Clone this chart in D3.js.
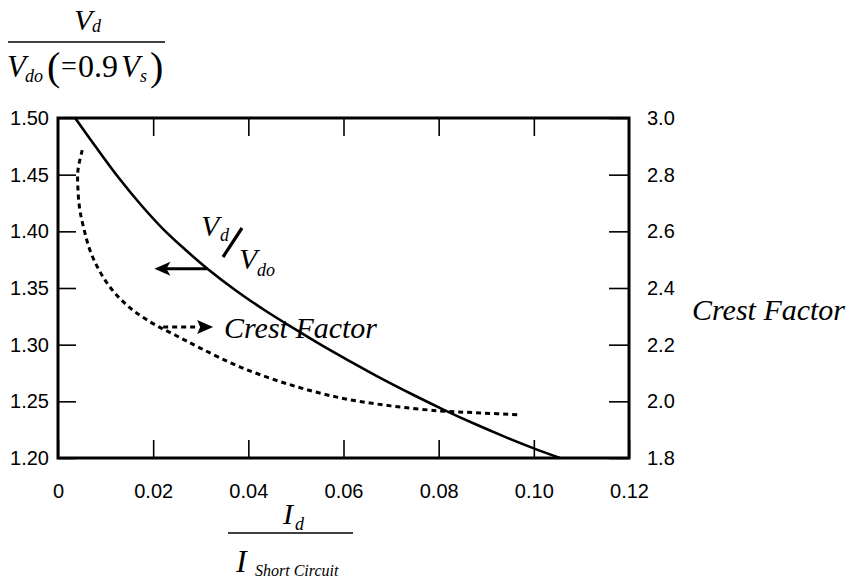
<!DOCTYPE html>
<html>
<head>
<meta charset="utf-8">
<script src="https://cdn.jsdelivr.net/npm/d3@7"></script>
<style>
  body { margin: 0; background: #fff; }
  .tick text { font-family: "Liberation Sans", Arial, sans-serif; font-size: 20px; fill: #000; }
  .tick line { stroke: #000; stroke-width: 1.6; }
  .it { font-family: "Liberation Serif", "Times New Roman", serif; font-style: italic; fill: #000; }
  .rm { font-family: "Liberation Serif", "Times New Roman", serif; fill: #000; }
</style>
</head>
<body>
<svg id="chart" width="860" height="581"></svg>
<script>
var width = 860
var height = 581
var margin = { top: 118, left: 58, right: 231, bottom: 123 }

// Vd / Vdo 曲线 (左轴)
var vdX = [0.0036, 0.0082, 0.0128, 0.0175, 0.0221, 0.0267, 0.0314, 0.0373, 0.0432, 0.0493, 0.0552, 0.0615, 0.0680, 0.0745, 0.0811, 0.0874, 0.0937, 0.1000, 0.1055]
var vdY = [1.500, 1.473, 1.447, 1.423, 1.402, 1.384, 1.367, 1.348, 1.331, 1.315, 1.300, 1.285, 1.270, 1.256, 1.2425, 1.2304, 1.2191, 1.2085, 1.200]

// Crest Factor 曲线 (右轴)
var cfX = [0.0051, 0.0042, 0.0042, 0.0046, 0.0055, 0.0067, 0.0086, 0.0114, 0.0152, 0.0198, 0.0246, 0.0299, 0.0383, 0.0489, 0.0594, 0.0699, 0.0804, 0.0888, 0.0973]
var cfY = [2.887, 2.816, 2.746, 2.675, 2.605, 2.534, 2.464, 2.393, 2.329, 2.276, 2.234, 2.188, 2.121, 2.058, 2.012, 1.984, 1.966, 1.959, 1.952]

var xTicks = [0, 0.02, 0.04, 0.06, 0.08, 0.10, 0.12]
var leftTicks = [1.20, 1.25, 1.30, 1.35, 1.40, 1.45, 1.50]
var rightTicks = [1.8, 2.0, 2.2, 2.4, 2.6, 2.8, 3.0]

// 箭头标注的起点 [x, y]
var vdArrow = [0.0314, 1.367]
var cfArrow = [0.0221, 2.262]

var svg = d3.select("#chart")
var w = width - margin.left - margin.right
var h = height - margin.top - margin.bottom

var xScale = d3.scaleLinear().domain([0, 0.12]).range([0, w])
var yLeft = d3.scaleLinear().domain([1.20, 1.50]).range([h, 0])
var yRight = d3.scaleLinear().domain([1.8, 3.0]).range([h, 0])

var g = svg.append("g").attr("transform", "translate(" + margin.left + "," + margin.top + ")")

// 坐标轴 (刻度朝内)
var xfmt = function (d) { return d === 0 ? "0" : d3.format(".2f")(d) }
g.append("g").attr("transform", "translate(0," + h + ")")
    .call(d3.axisBottom(xScale).tickValues(xTicks).tickFormat(xfmt).tickSizeInner(-18).tickSizeOuter(0).tickPadding(26))
g.append("g")
    .call(d3.axisTop(xScale).tickValues(xTicks.slice(1, -1)).tickFormat("").tickSizeInner(-18).tickSizeOuter(0))
g.append("g")
    .call(d3.axisLeft(yLeft).tickValues(leftTicks).tickFormat(d3.format(".2f")).tickSizeInner(-18).tickSizeOuter(0).tickPadding(9))
g.append("g").attr("transform", "translate(" + w + ",0)")
    .call(d3.axisRight(yRight).tickValues(rightTicks).tickFormat(d3.format(".1f")).tickSizeInner(-20).tickSizeOuter(0).tickPadding(18))
g.selectAll(".domain").remove()

g.append("rect")
    .attr("width", w).attr("height", h)
    .attr("fill", "none").attr("stroke", "#000").attr("stroke-width", 3)

// 数据曲线
var vdData = vdX.map(function (d, i) { return [d, vdY[i]] })
var cfData = cfX.map(function (d, i) { return [d, cfY[i]] })

g.append("path")
    .datum(vdData)
    .attr("fill", "none").attr("stroke", "#000").attr("stroke-width", 2.6)
    .attr("d", d3.line().x(function (d) { return xScale(d[0]) }).y(function (d) { return yLeft(d[1]) }).curve(d3.curveCatmullRom))

g.append("path")
    .datum(cfData)
    .attr("fill", "none").attr("stroke", "#000").attr("stroke-width", 3)
    .attr("stroke-dasharray", "5,4")
    .attr("d", d3.line().x(function (d) { return xScale(d[0]) }).y(function (d) { return yRight(d[1]) }).curve(d3.curveCatmullRom))

// 箭头
var ax = xScale(vdArrow[0]), ay = yLeft(vdArrow[1])
g.append("line").attr("x1", ax).attr("y1", ay).attr("x2", ax - 42).attr("y2", ay)
    .attr("stroke", "#000").attr("stroke-width", 3)
g.append("path")
    .attr("d", "M" + (ax - 53) + "," + ay + "L" + (ax - 37) + "," + (ay - 7) + "L" + (ax - 41) + "," + ay + "L" + (ax - 37) + "," + (ay + 7) + "Z")
    .attr("fill", "#000")

var bx = xScale(cfArrow[0]), by = yRight(cfArrow[1])
g.append("line").attr("x1", bx).attr("y1", by).attr("x2", bx + 36).attr("y2", by)
    .attr("stroke", "#000").attr("stroke-width", 3).attr("stroke-dasharray", "5,4")
g.append("path")
    .attr("d", "M" + (bx + 50) + "," + by + "L" + (bx + 34) + "," + (by - 7) + "L" + (bx + 37) + "," + by + "L" + (bx + 34) + "," + (by + 7) + "Z")
    .attr("fill", "#000")

// 曲线标注
g.append("text").attr("class", "it").attr("x", 143).attr("y", 118).attr("font-size", 30).text("V")
g.append("text").attr("class", "it").attr("x", 162).attr("y", 123).attr("font-size", 18).text("d")
g.append("line").attr("x1", 184).attr("y1", 110).attr("x2", 165).attr("y2", 139)
    .attr("stroke", "#000").attr("stroke-width", 3.2)
g.append("text").attr("class", "it").attr("x", 181).attr("y", 151).attr("font-size", 30).text("V")
g.append("text").attr("class", "it").attr("x", 199).attr("y", 158).attr("font-size", 18).text("do")

g.append("text").attr("class", "it").attr("x", 166).attr("y", 220).attr("font-size", 30).text("Crest Factor")

// 右轴标题
svg.append("text").attr("class", "it").attr("x", 692).attr("y", 320).attr("font-size", 30).text("Crest Factor")

// 左轴标题 (分式)
svg.append("text").attr("class", "it").attr("x", 74).attr("y", 30).attr("font-size", 30).text("V")
svg.append("text").attr("class", "it").attr("x", 92).attr("y", 32).attr("font-size", 18).text("d")
svg.append("line").attr("x1", 8).attr("y1", 42).attr("x2", 165).attr("y2", 42)
    .attr("stroke", "#000").attr("stroke-width", 1.5)
svg.append("text").attr("class", "it").attr("x", 7).attr("y", 77).attr("font-size", 31).text("V")
svg.append("text").attr("class", "it").attr("x", 25).attr("y", 82).attr("font-size", 18).text("do")
svg.append("text").attr("class", "rm").attr("x", 47).attr("y", 80).attr("font-size", 40).text("(")
svg.append("text").attr("class", "rm").attr("x", 61).attr("y", 75).attr("font-size", 28).text("=")
svg.append("text").attr("class", "rm").attr("x", 78).attr("y", 77).attr("font-size", 32).text("0.9")
svg.append("text").attr("class", "it").attr("x", 121).attr("y", 77).attr("font-size", 31).text("V")
svg.append("text").attr("class", "it").attr("x", 140).attr("y", 82).attr("font-size", 18).text("s")
svg.append("text").attr("class", "rm").attr("x", 150).attr("y", 80).attr("font-size", 40).text(")")

// x 轴标题 (分式)
svg.append("text").attr("class", "it").attr("x", 283).attr("y", 524).attr("font-size", 30).text("I")
svg.append("text").attr("class", "it").attr("x", 295).attr("y", 530).attr("font-size", 18).text("d")
svg.append("line").attr("x1", 228).attr("y1", 533).attr("x2", 353).attr("y2", 533)
    .attr("stroke", "#000").attr("stroke-width", 1.5)
svg.append("text").attr("class", "it").attr("x", 236).attr("y", 572).attr("font-size", 32).text("I")
svg.append("text").attr("class", "it").attr("x", 255).attr("y", 576).attr("font-size", 16).text("Short  Circuit")
</script>
</body>
</html>
